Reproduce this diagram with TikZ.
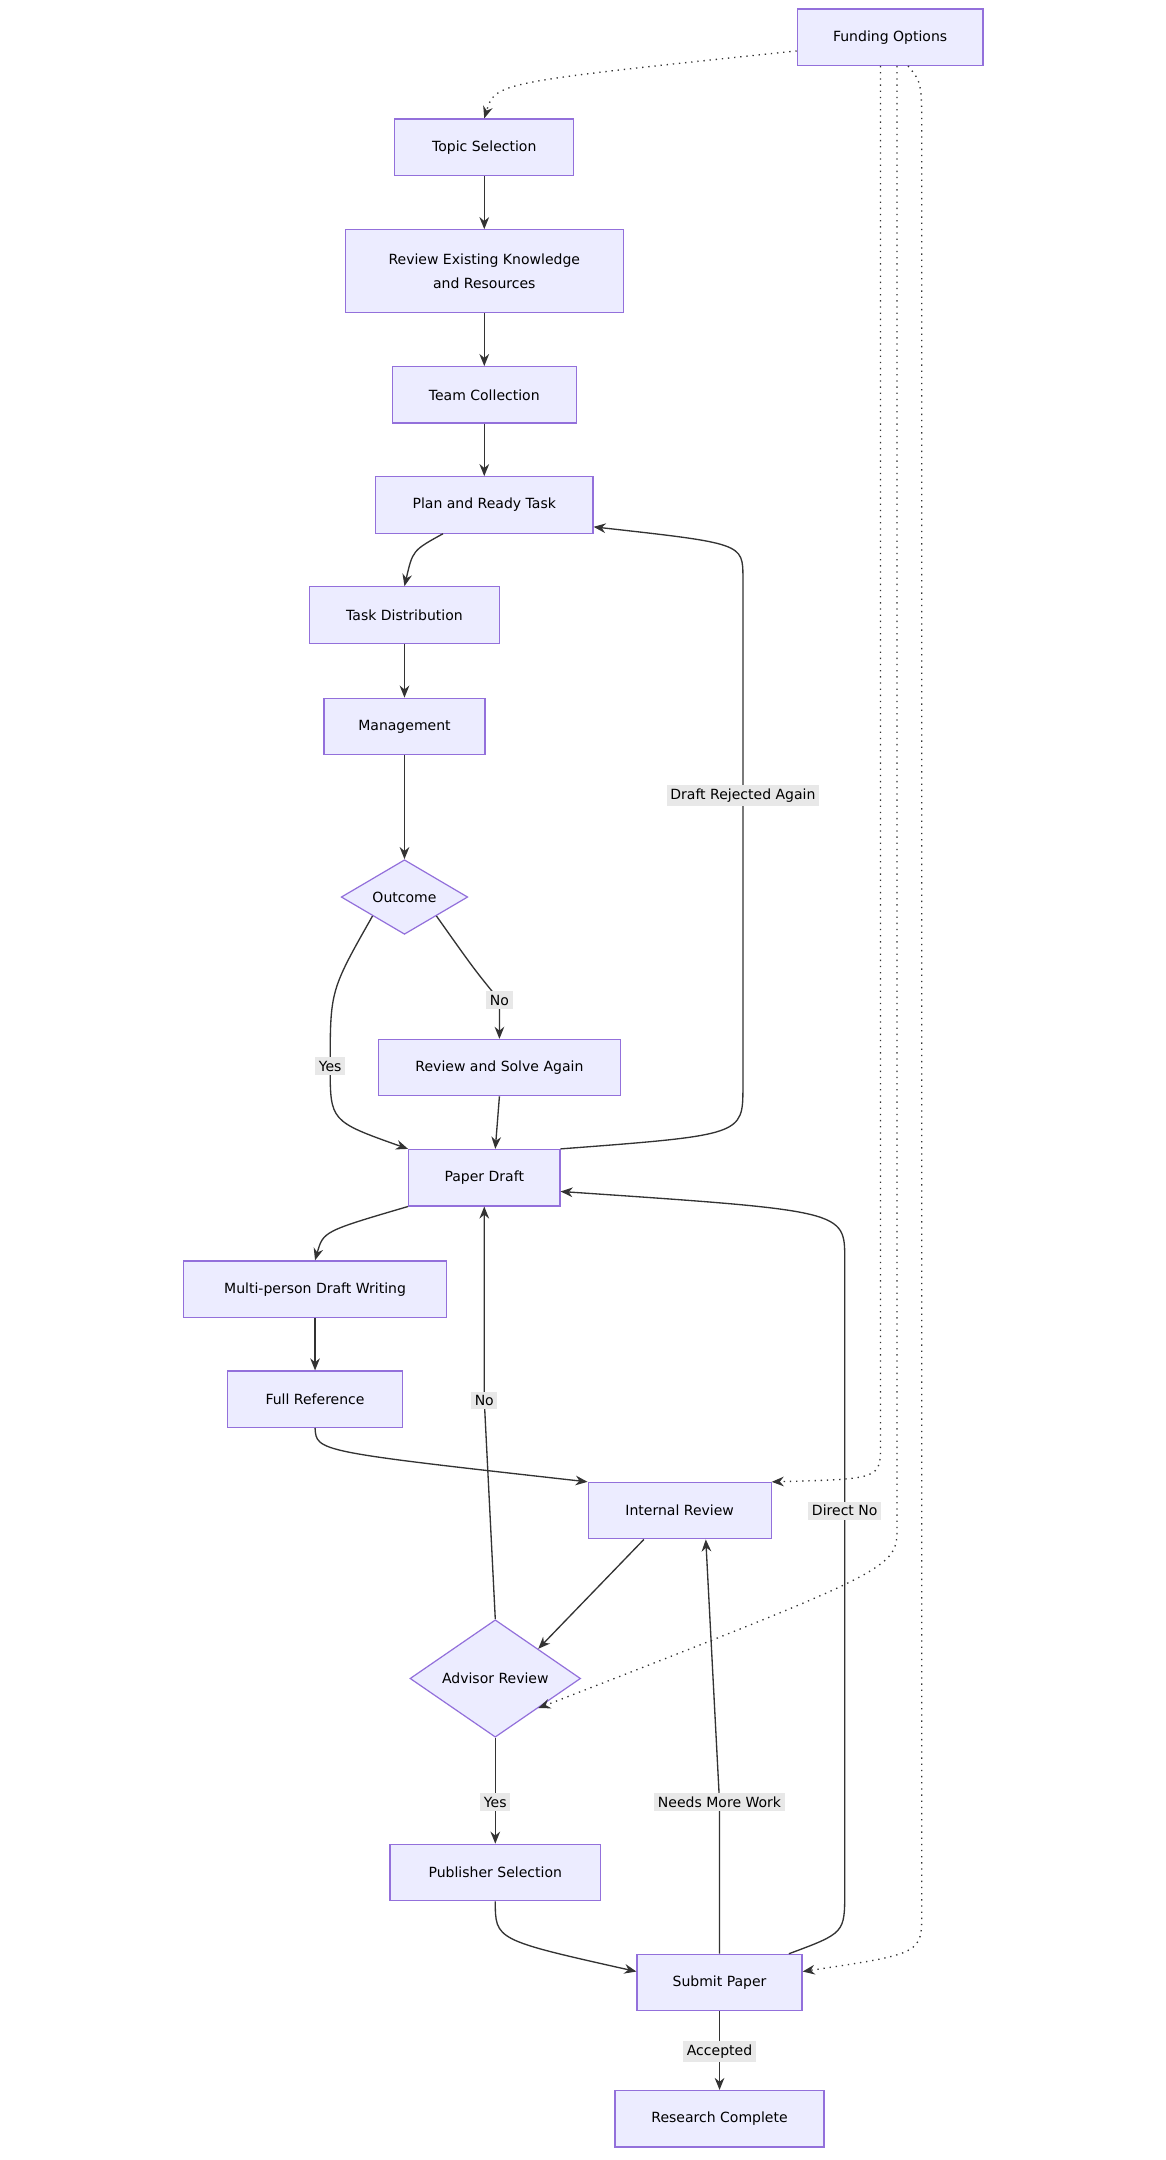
\documentclass[tikz,border=0pt]{standalone}
\usepackage{fontspec}
\setmainfont{DejaVu Sans}
\usetikzlibrary{arrows.meta}
\usetikzlibrary{positioning}
\usetikzlibrary{shapes.geometric}
\usetikzlibrary{calc}
\definecolor{boxfill}{HTML}{ECECFF}
\definecolor{boxline}{HTML}{9370DB}
\definecolor{edgeline}{HTML}{333333}
\definecolor{lblfill}{HTML}{E8E8E8}

\begin{document}
\begin{tikzpicture}[x=0.02cm,y=-0.02cm,
    every node/.style={font=\fontsize{5.8}{8}\selectfont},
    box/.style={rectangle,draw=boxline,fill=boxfill,line width=0.5pt,minimum height=0.82cm,align=center},
    choice/.style={diamond,draw=boxline,fill=boxfill,line width=0.5pt,inner sep=0pt,aspect=1},
    flow/.style={draw=edgeline,line width=0.55pt,-{Stealth[length=5pt,width=4pt]}},
    fund/.style={flow,dotted},
    lbl/.style={fill=lblfill,inner sep=1.5pt}]
  \useasboundingbox (0,0) rectangle (847,1570);
  % boxes
  \node[box,minimum width=2.7cm] (funding) at (647,27) {Funding Options};
  \node[box,minimum width=2.6cm] (topic) at (352,107) {Topic Selection};
  \node[box,minimum width=4.04cm,minimum height=1.2cm] (existing) at (352,197) {Review Existing Knowledge\\[2pt]and Resources};
  \node[box,minimum width=2.68cm] (team) at (352,287) {Team Collection};
  \node[box,minimum width=3.16cm] (plan) at (352,367) {Plan and Ready Task};
  \node[box,minimum width=2.76cm] (distrib) at (294,447) {Task Distribution};
  \node[box,minimum width=2.34cm] (manage) at (294,528) {Management};
  \node[choice,minimum width=1.84cm] (outcome) at (294,652) {Outcome};
  \node[box,minimum width=3.52cm] (solve) at (363,776) {Review and Solve Again};
  \node[box,minimum width=2.2cm] (draft) at (352,856) {Paper Draft};
  \node[box,minimum width=3.82cm] (multi) at (229,937) {Multi-person Draft Writing};
  \node[box,minimum width=2.54cm] (fullref) at (229,1017) {Full Reference};
  \node[box,minimum width=2.66cm] (internal) at (494,1098) {Internal Review};
  \node[choice,minimum width=2.48cm] (advisor) at (360,1220) {Advisor Review};
  \node[box,minimum width=3.06cm] (publisher) at (360,1361) {Publisher Selection};
  \node[box,minimum width=2.4cm] (submit) at (523,1441) {Submit Paper};
  \node[box,minimum width=3.04cm] (complete) at (523,1540) {Research Complete};
  % main flow
  \draw[flow] (topic) -- (existing);
  \draw[flow] (existing) -- (team);
  \draw[flow] (team) -- (plan);
  \draw[flow] ($(plan.south)+(-30,0)$) .. controls (300,400) .. (distrib.north);
  \draw[flow] (distrib) -- (manage);
  \draw[flow] (manage) -- (outcome);
  \draw[flow] (outcome.south west) .. controls (240,720) .. (240,775) node[lbl]{Yes}
    .. controls (240,815) .. (draft.north west);
  \draw[flow] (outcome.south east) .. controls (345,705) .. (363,727) node[lbl]{No} -- (solve.north);
  \draw[flow] (solve.south) -- ($(draft.north)+(8,0)$);
  \draw[flow] (draft.north east) .. controls (540,825) .. (540,790) -- (540,578) node[lbl]{Draft Rejected Again}
    -- (540,420) .. controls (540,395) .. ($(plan.south east)+(0,-5)$);
  \draw[flow] (draft.south west) .. controls (235,895) .. (multi.north);
  \draw[flow] (multi) -- (fullref);
  \draw[flow] (fullref.south) .. controls (230,1055) .. (internal.north west);
  \draw[flow] ($(internal.south)+(-26,0)$) -- (advisor.north east);
  \draw[flow] (advisor.north) -- (352,1018) node[lbl]{No} -- (draft.south);
  \draw[flow] (advisor.south) -- (360,1310) node[lbl]{Yes} -- (publisher.north);
  \draw[flow] (publisher.south) .. controls (360,1410) .. ($(submit.west)+(0,-8)$);
  \draw[flow] (submit.north) -- (523,1310) node[lbl]{Needs More Work} -- ($(internal.south)+(19,0)$);
  \draw[flow] ($(submit.north east)+(-10,0)$) .. controls (614,1405) .. (614,1375) -- (614,1098) node[lbl]{Direct No}
    -- (614,915) .. controls (614,880) .. ($(draft.east)+(0,10)$);
  \draw[flow] (submit.south) -- (523,1491) node[lbl]{Accepted} -- (complete.north);
  % funding links
  \draw[fund] (funding.west |- 0,37) .. controls (360,60) .. (topic.north);
  \draw[fund] ($(funding.south)+(-7,0)$) -- (640,1050) .. controls (640,1075) .. (internal.north east);
  \draw[fund] ($(funding.south)+(5,0)$) -- (652,1110) .. controls (652,1140) .. (advisor.south east);
  \draw[fund] ($(funding.south)+(13,0)$) .. controls (670,60) .. (670,100) -- (670,1390)
    .. controls (670,1420) .. ($(submit.east)+(0,-8)$);
\end{tikzpicture}
\end{document}
